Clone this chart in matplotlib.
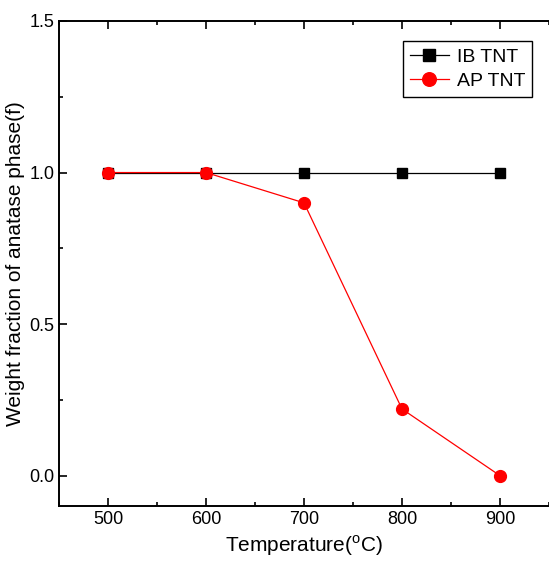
import matplotlib
matplotlib.use("Agg")
import matplotlib.pyplot as plt
from matplotlib.ticker import MultipleLocator

plt.rcParams['font.family'] = ['Liberation Sans', 'DejaVu Sans']
plt.rcParams['mathtext.fontset'] = 'custom'
plt.rcParams['mathtext.rm'] = 'Liberation Sans'

temps = [500, 600, 700, 800, 900]
ib_tnt = [1.0, 1.0, 1.0, 1.0, 1.0]
ap_tnt = [1.0, 1.0, 0.9, 0.22, 0.0]

fig = plt.figure(figsize=(5.49, 5.67), dpi=100)
ax = fig.add_axes([0.1075, 0.1076, 0.8925, 0.8554])

ax.plot(temps, ib_tnt, color='black', lw=0.9, marker='s', ms=7, label='IB TNT')
ax.plot(temps, ap_tnt, color='red', lw=0.9, marker='o', ms=8.5, label='AP TNT')

ax.set_xlim(450, 950)
ax.set_ylim(-0.1, 1.5)
ax.xaxis.set_major_locator(MultipleLocator(100))
ax.xaxis.set_minor_locator(MultipleLocator(50))
ax.yaxis.set_major_locator(MultipleLocator(0.5))
ax.yaxis.set_minor_locator(MultipleLocator(0.25))
ax.yaxis.set_major_formatter(plt.FormatStrFormatter('%.1f'))

ax.tick_params(which='both', direction='in', top=True, right=False, labelsize=13, width=1.2)
ax.tick_params(which='major', length=6)
ax.tick_params(which='minor', length=3)
for s in ax.spines.values():
    s.set_linewidth(1.4)
ax.spines['right'].set_visible(False)

ax.set_xlabel(r'Temperature($^\mathregular{o}$C)', fontsize=15, labelpad=4)
ax.set_ylabel('Weight fraction of anatase phase(f)', fontsize=15, labelpad=3)

leg = ax.legend(loc='upper right', bbox_to_anchor=(0.985, 0.978), fontsize=14,
                frameon=True, fancybox=False, edgecolor='black', framealpha=1,
                handlelength=2.0, borderpad=0.35, labelspacing=0.35, handletextpad=0.4,
                markerscale=1.15)
leg.get_frame().set_linewidth(1.0)

fig.savefig('out.png', dpi=100)
